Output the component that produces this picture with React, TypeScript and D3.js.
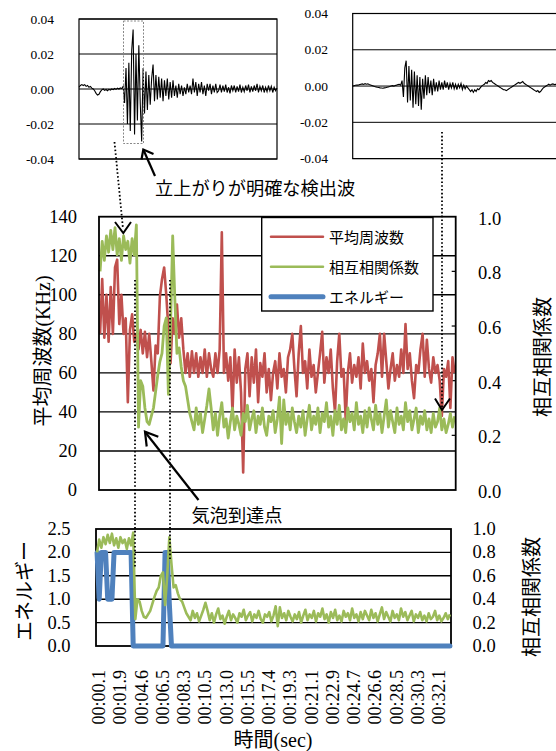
import React from 'react';
import * as d3 from 'd3';

// 平均周波数 (KHz), one value per category
const freqKHz = [
  80, 108, 78, 100, 76, 104, 80, 114, 118, 85, 100, 80, 88, 45, 82, 90, 76, 80,
  72, 82, 70, 81, 68, 80, 66, 51, 74, 70,
  99, 108, 114, 100, 82, 65, 88, 80, 95, 78, 88, 72, 60,
  70, 58, 71, 60, 70, 58, 68, 60, 72, 58, 70, 62, 58, 70, 60, 72,
  132, 60,
  70, 56, 68, 40, 72, 55, 68, 50,
  9, 62,
  70, 48, 68, 55, 72, 45, 65, 58, 70, 50, 62, 46,
  60, 66, 52, 70, 58, 62, 50, 68, 72, 80, 62, 48, 70, 84, 60, 66, 52, 72, 58, 64,
  50, 60, 70, 81, 55, 68, 60, 72, 52, 40, 66, 80, 58, 62, 36, 60, 70, 55, 64, 58,
  68, 52, 75, 60, 66, 56, 62, 45, 64, 70, 80, 58, 80, 66, 52, 62, 70, 56, 64, 58,
  72, 60, 85, 62, 70, 56, 47, 64, 60, 72, 80, 58, 77, 62, 55, 68, 60, 64, 56, 38,
  62, 58, 66, 42, 68, 60,
];

// 相互相関係数
const corr = [
  0.80, 0.91, 0.84, 0.93, 0.87, 0.95, 0.88, 0.96, 0.86, 0.92, 0.84, 0.93, 0.88, 0.91, 0.83, 0.92, 0.86, 0.97,
  0.23, 0.40, 0.38, 0.30, 0.25, 0.24, 0.27, 0.30, 0.36, 0.42, 0.47, 0.50, 0.60, 0.63, 0.35, 0.60, 0.93, 0.70,
  0.50, 0.52, 0.45, 0.40, 0.38, 0.33, 0.28,
  0.25, 0.22, 0.30, 0.24, 0.28, 0.21, 0.26, 0.31, 0.37, 0.30, 0.22, 0.28, 0.20, 0.27, 0.32, 0.23, 0.26, 0.19,
  0.25, 0.30, 0.22, 0.27, 0.24, 0.20, 0.28, 0.25, 0.31, 0.22, 0.26, 0.29, 0.21, 0.27, 0.24, 0.30, 0.23, 0.20,
  0.27, 0.25, 0.29, 0.21, 0.26, 0.34, 0.17, 0.33, 0.24, 0.28, 0.22, 0.30, 0.25, 0.21, 0.27, 0.23, 0.29, 0.20,
  0.26, 0.31, 0.22, 0.27, 0.24, 0.30, 0.21, 0.28, 0.25, 0.32, 0.23, 0.27, 0.20, 0.29, 0.24, 0.31, 0.22, 0.26,
  0.21, 0.30, 0.25, 0.28, 0.22, 0.32, 0.24, 0.27, 0.21, 0.29, 0.23, 0.30, 0.26, 0.22, 0.31, 0.24, 0.28, 0.21,
  0.27, 0.33, 0.23, 0.29, 0.25, 0.21, 0.30, 0.24, 0.27, 0.22, 0.32, 0.25, 0.29, 0.22, 0.26, 0.30, 0.21, 0.27,
  0.24, 0.29, 0.22, 0.26, 0.21, 0.28, 0.23, 0.25, 0.30, 0.22, 0.26, 0.21, 0.24, 0.28, 0.23, 0.27,
];

// エネルギー
const energy = [
  2, 1, 2, 2, 2, 1, 1, 1, 2, 2, 2, 2, 2, 2, 2, 2, 2,
  0, 0, 0, 0, 0, 0, 0, 0, 0, 0, 0, 0, 0, 0, 0,
  2, 2, 0.9,
  ...new Array(132).fill(0),
];

const timeLabels = [
  '00:00.1', '00:01.9', '00:04.6', '00:06.5', '00:08.3', '00:10.5', '00:13.0', '00:15.5', '00:17.4',
  '00:19.3', '00:21.1', '00:22.9', '00:24.7', '00:26.6', '00:28.5', '00:30.3', '00:32.1',
];
const labelStep = 10;

// detected waveforms (unit: 0.001)
const waveA = [
  1, 2, 2.5, 2, 2.5, 1.5, 2, 1, 1.5, 0.5, 0, -1,
  -2.5, -3.5, -3, -1.5,
  -0.5, 0, -0.8, -0.3, -1, -0.2, -0.6, 0, -0.4, 0.3, -0.2, 0.5, 0, 0.6, 0.2,
  1.5, -8, 12, -20, 15, -24, 22, 34, -26, 20, -18, 25, -8, -30, 12, -14, 10, -12, 8, -9, 6, 14, -7, 8,
  -6, 7, -5, 6, -7, 5, -4, 6, -6, 4, -5, 5,
  -4, 2, -5, 3, -3, 2, -4, 1, -3, 3, -2, 2,
  -3, 6, -2, 4, -4, 3, -2, 4, -3, 2, -4, 3, -1, 3, -3, 2, -2, 3, -2,
  -1, 2.5, -2, 2, -1.5, 2.5, -2, 1, -2.5, 2, -1, 2, -2, 1.5, -1.5, 2.5, -2, 1, -1.5, 2,
  -1, 2.5, -2, 1.5, -1.5, 2, -1, 3, -2, 1.5, -1, 2, -2, 1, -1.5, 2, -1, 1.5, -2, 1, -1, 0.5,
];
const waveB = [
  0, 0.2, 0.4, 0.6, 0.5, 0.8, 1, 1.2, 0.9, 1.3, 1, 1.2, 0.8, 0.6, 0.3, 0, -0.3, -0.5, -0.7, -0.8,
  -1, -1.1, -1.2, -1, -0.9, -0.7, -0.5, -0.3, 0, 0.2, 0, 0.3, 0.5, 0.8, 1, 0.5,
  3, -6, 10, 14, -9, 11, -8, 9, -12, 8, -10, 6, -11, 5, -13,
  4, -7, 6, -5, 5, -4, 3, -5, 4, -3, 2, -3, 3, -2,
  2, -2, 3, -1, 2, -2, 1.5, -1, 2, -1.5, 1, -2, 1, -1, 1.5, -2, 0.5, -1.5, 0, -1, -2,
  -3, -2, -3.5, -2, -3, -1.5, -2, -1, 0, 0.5,
  1, 2, 1.5, 3, 2.5, 3, 2, 1.5, 1, 0.5, 0, -0.5, -1, -1.5, -2,
  -2, -2.5, -2, -1.5, -1, -0.5, 0, 0.5, 1, 1.5, 2, 1.5, 2, 2.5, 1.5,
  1, 0.5, 0, -0.5, -1, -1.5, -2, -2.5, -3, -2.5, -3.5, -3, -2, -1, -0.5, 0, 0.5, 1, 0.5, 1, 1.2, 0.8, 1, 0.5,
];
const waveTicks = [40, 20, 0, -20, -40];
const waveTickLabels = ['0.04', '0.02', '0.00', '-0.02', '-0.04'];

const freqTicks = [0, 20, 40, 60, 80, 100, 120, 140];
const corrTicks = [0, 0.2, 0.4, 0.6, 0.8, 1.0];
const energyTicks = [0, 0.5, 1.0, 1.5, 2.0, 2.5];

const legendItems = [
  { name: '平均周波数', color: '#C0504D', width: 2.5 },
  { name: '相互相関係数', color: '#9BBB59', width: 2.5 },
  { name: 'エネルギー', color: '#4F81BD', width: 5 },
];

const RED = '#C0504D';
const GREEN = '#9BBB59';
const BLUE = '#4F81BD';
const SERIF = 'Liberation Serif, Times New Roman, serif';
const MIXED = 'Liberation Serif, Noto Sans CJK JP, serif';
const GOTHIC = 'Noto Sans CJK JP, Noto Sans, sans-serif';

function Inset({ data, left, right, top, bottom, dataRight, labelX }: any) {
  const x = d3.scaleLinear().domain([0, data.length - 1]).range([left, dataRight]);
  const y = d3.scaleLinear().domain([-40, 40]).range([bottom, top]);
  const line = d3.line<number>().x((d, i) => x(i)).y((d) => y(d));
  return (
    <g>
      {waveTicks.map((t, k) => (
        <g key={t}>
          <line x1={left} x2={right} y1={y(t)} y2={y(t)} stroke="#000" strokeWidth={1} />
          <text x={labelX} y={y(t)} textAnchor="end" dominantBaseline="central" fontSize={13.5} style={{ fontFamily: SERIF }}>
            {waveTickLabels[k]}
          </text>
        </g>
      ))}
      <rect x={left} y={top} width={right - left} height={bottom - top} fill="none" stroke="#000" strokeWidth={1.2} />
      <path d={line(data) || ''} fill="none" stroke="#000" strokeWidth={1.1} />
    </g>
  );
}

export default function App() {
  const N = freqKHz.length;

  // main chart
  const m = { left: 99, right: 455.7, top: 216.7, bottom: 490 };
  const xm = d3.scaleBand<number>().domain(d3.range(N)).range([m.left, m.right]);
  const cxm = (i: number) => (xm(i) as number) + xm.bandwidth() / 2;
  const yFreq = d3.scaleLinear().domain([0, 140]).range([m.bottom, m.top]);
  const yCorr = d3.scaleLinear().domain([0, 1]).range([m.bottom, m.top]);
  const freqLine = d3.line<number>().x((d, i) => cxm(i)).y((d) => yFreq(d));
  const corrLine = d3.line<number>().x((d, i) => cxm(i)).y((d) => yCorr(d));

  // energy chart
  const b = { left: 96, right: 451, top: 529, bottom: 646 };
  const xb = d3.scaleBand<number>().domain(d3.range(N)).range([b.left, b.right]);
  const cxb = (i: number) => (xb(i) as number) + xb.bandwidth() / 2;
  const yEn = d3.scaleLinear().domain([0, 2.5]).range([b.bottom, b.top]);
  const yCorrB = d3.scaleLinear().domain([0, 1]).range([b.bottom, b.top]);
  const enLine = d3.line<number>().x((d, i) => cxb(i)).y((d) => yEn(d));
  const corrLineB = d3.line<number>().x((d, i) => cxb(i)).y((d) => yCorrB(d));

  const dotted = { stroke: '#000', strokeWidth: 1.8, strokeDasharray: '1.6 2.2', fill: 'none' };
  const serif = { fontFamily: SERIF };
  const mixed = { fontFamily: MIXED };
  const gothic = { fontFamily: GOTHIC };

  return (
    <svg width={556} height={751} style={{ position: 'absolute', left: 0, top: 0, background: '#fff' }}>
      {/* insets */}
      <Inset data={waveA} left={79} right={277} top={19} bottom={159} dataRight={277} labelX={54} />
      <Inset data={waveB} left={352.7} right={600} top={13.5} bottom={158.6} dataRight={557} labelX={328} />
      <rect x={123.5} y={21} width={20} height={122.5} fill="none" stroke="#888" strokeWidth={1} strokeDasharray="2 1.5" />

      {/* main chart grid */}
      {freqTicks.map((t) => (
        <g key={'f' + t}>
          {t > 0 && t < 140 && (
            <line x1={m.left} x2={m.right} y1={yFreq(t)} y2={yFreq(t)} stroke="#000" strokeWidth={1.4} />
          )}
          <text x={77} y={yFreq(t)} textAnchor="end" dominantBaseline="central" fontSize={18.5} style={serif}>
            {t}
          </text>
        </g>
      ))}
      {corrTicks.map((t) => (
        <g key={'c' + t}>
          {t > 0 && t < 1 && (
            <line x1={m.right - 4} x2={m.right} y1={yCorr(t)} y2={yCorr(t)} stroke="#000" strokeWidth={1.2} />
          )}
          <text x={478} y={yCorr(t) + 2} dominantBaseline="central" fontSize={18.5} style={serif}>
            {t.toFixed(1)}
          </text>
        </g>
      ))}
      <path d={freqLine(freqKHz) || ''} fill="none" stroke={RED} strokeWidth={2.6} strokeLinejoin="round" />
      <path d={corrLine(corr) || ''} fill="none" stroke={GREEN} strokeWidth={2.8} strokeLinejoin="round" />
      <rect x={m.left} y={m.top} width={m.right - m.left} height={m.bottom - m.top} fill="none" stroke="#000" strokeWidth={1.8} />

      {/* legend */}
      <rect x={261.7} y={217.5} width={171.3} height={93.5} fill="#fff" stroke="#000" strokeWidth={1.4} />
      {legendItems.map((it, k) => {
        const ly = 236.7 + k * 30;
        return (
          <g key={it.name}>
            <line x1={271} x2={323} y1={ly} y2={ly} stroke={it.color} strokeWidth={it.width} strokeLinecap="round" />
            <text x={329} y={ly} dominantBaseline="central" fontSize={15} style={gothic}>
              {it.name}
            </text>
          </g>
        );
      })}

      <text transform="translate(43,351) rotate(-90)" textAnchor="middle" dominantBaseline="central" fontSize={20} style={mixed}>
        平均周波数(KHz)
      </text>
      <text transform="translate(541,357) rotate(-90)" textAnchor="middle" dominantBaseline="central" fontSize={20} style={gothic}>
        相互相関係数
      </text>

      {/* energy chart */}
      {energyTicks.map((t) => (
        <g key={'e' + t}>
          {t > 0 && t < 2.5 && (
            <line x1={b.left} x2={b.right} y1={yEn(t)} y2={yEn(t)} stroke="#000" strokeWidth={1.4} />
          )}
          <text x={70.5} y={yEn(t)} textAnchor="end" dominantBaseline="central" fontSize={18.5} style={serif}>
            {t.toFixed(1)}
          </text>
        </g>
      ))}
      {corrTicks.map((t) => (
        <text key={'cb' + t} x={472.5} y={yCorrB(t)} dominantBaseline="central" fontSize={18.5} style={serif}>
          {t.toFixed(1)}
        </text>
      ))}
      <rect x={b.left} y={b.top} width={b.right - b.left} height={b.bottom - b.top} fill="none" stroke="#000" strokeWidth={1.8} />
      <path d={enLine(energy) || ''} fill="none" stroke={BLUE} strokeWidth={5} strokeLinejoin="round" strokeLinecap="round" />
      <path d={corrLineB(corr) || ''} fill="none" stroke={GREEN} strokeWidth={2.6} strokeLinejoin="round" />

      {timeLabels.map((lab, k) => (
        <text
          key={lab}
          transform={`translate(${cxb(k * labelStep) + 2},670) rotate(-90)`}
          textAnchor="end"
          dominantBaseline="central"
          fontSize={18}
          style={serif}
        >
          {lab}
        </text>
      ))}
      <text transform="translate(23,591) rotate(-90)" textAnchor="middle" dominantBaseline="central" fontSize={20} style={gothic}>
        エネルギー
      </text>
      <text transform="translate(530,597) rotate(-90)" textAnchor="middle" dominantBaseline="central" fontSize={20} style={gothic}>
        相互相関係数
      </text>
      <text x={273} y={740} textAnchor="middle" dominantBaseline="central" fontSize={20} style={mixed}>
        時間(sec)
      </text>

      {/* annotations */}
      <line x1={114.5} y1={142} x2={123} y2={229} {...dotted} />
      <polyline points="115,222 123.3,233 131,222" fill="none" stroke="#000" strokeWidth={2} />
      <line x1={442} y1={132} x2={442} y2={409} {...dotted} />
      <polyline points="435,398.5 442,410 450,398.5" fill="none" stroke="#000" strokeWidth={2} />
      <line x1={135} y1={280} x2={135} y2={567} {...dotted} />
      <line x1={170} y1={280} x2={170} y2={560} {...dotted} />

      <line x1={155} y1={176} x2={143.5} y2={150} stroke="#000" strokeWidth={2.2} />
      <polyline points="141.5,159.5 143.3,149.5 153.5,154" fill="none" stroke="#000" strokeWidth={2.2} />
      <text x={155} y={187} dominantBaseline="central" fontSize={18.2} style={gothic}>
        立上がりが明確な検出波
      </text>

      <line x1={198.5} y1={500} x2={145.5} y2={432.5} stroke="#000" strokeWidth={2.2} />
      <polyline points="158.3,436.7 145,431.7 146.7,446.5" fill="none" stroke="#000" strokeWidth={2.2} />
      <text x={191.5} y={513.5} dominantBaseline="central" fontSize={18.2} style={gothic}>
        気泡到達点
      </text>
    </svg>
  );
}
